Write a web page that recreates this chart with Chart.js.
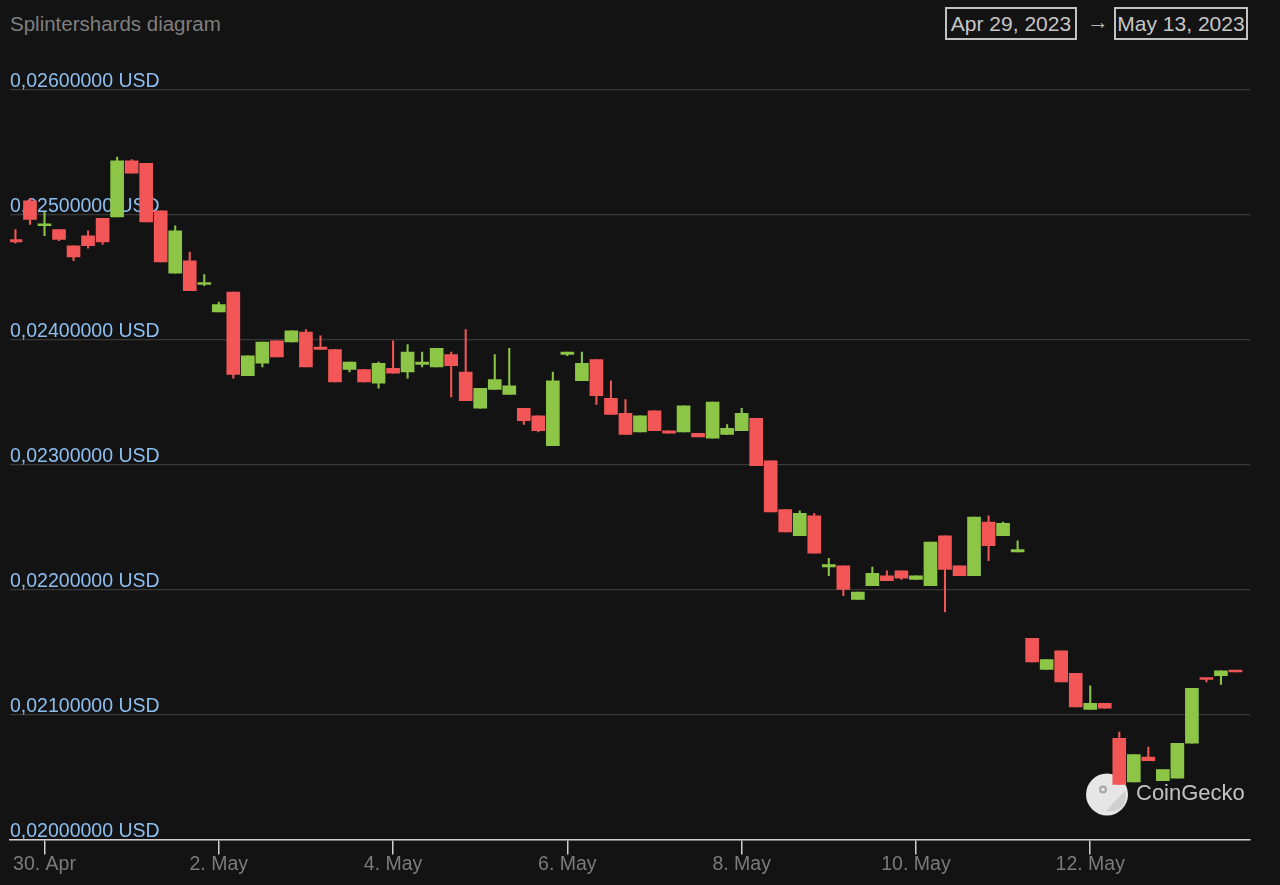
<!DOCTYPE html>
<html>
<head>
<meta charset="utf-8">
<script src="https://cdn.jsdelivr.net/npm/chart.js@4.4.0/dist/chart.umd.min.js"></script>
<style>
  html, body { margin: 0; padding: 0; background: #131313; }
  body { width: 1280px; height: 885px; position: relative; overflow: hidden; font-family: 'Liberation Sans', Arial, sans-serif; }
  #title { position: absolute; left: 10px; top: 12px; font-size: 20.5px; color: #7f7f7f; }
  .date { position: absolute; top: 7px; height: 33px; box-sizing: border-box; border: 2px solid #c2c2c2;
          color: #c6c6c6; font-size: 21px; line-height: 29px; text-align: center; }
  #from { left: 945px; width: 132px; }
  #to { left: 1114px; width: 134px; }
  #arrow { position: absolute; left: 1087px; top: 9px; font-size: 22px; color: #b5b5b5; }
  #wrap { position: absolute; left: 0; top: 0; width: 1280px; height: 885px; }
</style>
</head>
<body>
<div id="title">Splintershards diagram</div>
<div class="date" id="from">Apr 29, 2023</div>
<div id="arrow">→</div>
<div class="date" id="to">May 13, 2023</div>
<div id="wrap"><canvas id="myChart" width="1280" height="885"></canvas></div>

<script>
// 4-hour candles, first one at Apr 29 16:00 (hours counted from Apr 30 00:00)
const firstHour = -8
const stepHours = 4

const open = [
  0.02480, 0.02511, 0.02491, 0.02488, 0.02475, 0.02483, 0.02497, 0.02498, 0.02543, 0.02541,
  0.02503, 0.02453, 0.02463, 0.02444, 0.02422, 0.02438, 0.02371, 0.02381, 0.02399, 0.02398,
  0.02406, 0.02394, 0.02392, 0.02376, 0.02376, 0.02365, 0.02377, 0.02374, 0.02380, 0.02378,
  0.02388, 0.02374, 0.02345, 0.02360, 0.02356, 0.02345, 0.02339, 0.02315, 0.02388, 0.02367,
  0.02384, 0.02353, 0.02341, 0.02326, 0.02343, 0.02327, 0.02326, 0.02325, 0.02321, 0.02324,
  0.02327, 0.02337, 0.02303, 0.02264, 0.02243, 0.02259, 0.02218, 0.02219, 0.02192, 0.02203,
  0.02211, 0.02215, 0.02208, 0.02203, 0.02243, 0.02219, 0.02211, 0.02254, 0.02243, 0.02230,
  0.02161, 0.02136, 0.02151, 0.02133, 0.02104, 0.02109, 0.02081, 0.02046, 0.02066, 0.02047,
  0.02049, 0.02077, 0.02129, 0.02131, 0.02135
]
const high = [
  0.02488, 0.02513, 0.02502, 0.02488, 0.02475, 0.02487, 0.02497, 0.02546, 0.02544, 0.02541,
  0.02503, 0.02491, 0.02470, 0.02452, 0.02430, 0.02438, 0.02387, 0.02398, 0.02399, 0.02407,
  0.02408, 0.02403, 0.02392, 0.02382, 0.02376, 0.02382, 0.02399, 0.02396, 0.02390, 0.02393,
  0.02390, 0.02408, 0.02361, 0.02388, 0.02393, 0.02345, 0.02339, 0.02374, 0.02390, 0.02390,
  0.02384, 0.02367, 0.02352, 0.02339, 0.02343, 0.02327, 0.02347, 0.02325, 0.02350, 0.02332,
  0.02345, 0.02337, 0.02303, 0.02264, 0.02263, 0.02261, 0.02225, 0.02219, 0.02198, 0.02218,
  0.02215, 0.02215, 0.02211, 0.02238, 0.02243, 0.02219, 0.02258, 0.02259, 0.02254, 0.02239,
  0.02161, 0.02144, 0.02151, 0.02133, 0.02123, 0.02109, 0.02086, 0.02068, 0.02074, 0.02056,
  0.02077, 0.02121, 0.02129, 0.02135, 0.02135
]
const low = [
  0.02477, 0.02492, 0.02483, 0.02479, 0.02463, 0.02473, 0.02476, 0.02498, 0.02533, 0.02494,
  0.02462, 0.02453, 0.02439, 0.02443, 0.02422, 0.02369, 0.02371, 0.02378, 0.02386, 0.02398,
  0.02378, 0.02392, 0.02366, 0.02374, 0.02366, 0.02361, 0.02373, 0.02369, 0.02378, 0.02378,
  0.02354, 0.02351, 0.02345, 0.02360, 0.02356, 0.02332, 0.02326, 0.02315, 0.02387, 0.02367,
  0.02348, 0.02340, 0.02324, 0.02326, 0.02327, 0.02325, 0.02326, 0.02322, 0.02321, 0.02324,
  0.02327, 0.02299, 0.02262, 0.02246, 0.02243, 0.02229, 0.02211, 0.02195, 0.02192, 0.02203,
  0.02207, 0.02208, 0.02208, 0.02203, 0.02182, 0.02211, 0.02211, 0.02223, 0.02243, 0.02230,
  0.02142, 0.02136, 0.02126, 0.02106, 0.02104, 0.02105, 0.02044, 0.02046, 0.02063, 0.02047,
  0.02049, 0.02077, 0.02126, 0.02124, 0.02134
]
const close = [
  0.02478, 0.02496, 0.02492, 0.02480, 0.02466, 0.02475, 0.02478, 0.02543, 0.02533, 0.02494,
  0.02462, 0.02487, 0.02439, 0.02445, 0.02428, 0.02372, 0.02387, 0.02398, 0.02386, 0.02407,
  0.02378, 0.02392, 0.02366, 0.02382, 0.02366, 0.02381, 0.02373, 0.02390, 0.02382, 0.02393,
  0.02379, 0.02351, 0.02361, 0.02368, 0.02363, 0.02335, 0.02327, 0.02367, 0.02390, 0.02381,
  0.02355, 0.02340, 0.02324, 0.02339, 0.02327, 0.02325, 0.02347, 0.02322, 0.02350, 0.02329,
  0.02341, 0.02299, 0.02262, 0.02246, 0.02261, 0.02229, 0.02220, 0.02200, 0.02198, 0.02213,
  0.02207, 0.02209, 0.02211, 0.02238, 0.02216, 0.02211, 0.02258, 0.02235, 0.02253, 0.02232,
  0.02142, 0.02144, 0.02126, 0.02106, 0.02109, 0.02105, 0.02044, 0.02068, 0.02063, 0.02056,
  0.02077, 0.02121, 0.02128, 0.02135, 0.02134
]

const tickHours = [0, 48, 96, 144, 192, 240, 288]
const tickLabels = ['30. Apr', '2. May', '4. May', '6. May', '8. May', '10. May', '12. May']

const up = '#8dc647'
const down = '#f25656'

const bodies = []
const wicks = []
const colors = []
open.forEach((o, i) => {
  const x = firstHour + i * stepHours
  bodies.push({ x: x, y: [o, close[i]] })
  wicks.push({ x: x, y: [low[i], high[i]] })
  colors.push(close[i] >= o ? up : down)
})

const watermark = {
  id: 'watermark',
  beforeDatasetsDraw(chart) {
    const { ctx, chartArea } = chart
    const cx = chartArea.right - 143
    const cy = chartArea.bottom - 45
    ctx.save()
    ctx.fillStyle = '#e6e6e6'
    ctx.beginPath()
    ctx.arc(cx, cy, 21, 0, Math.PI * 2)
    ctx.fill()
    ctx.fillStyle = '#cfcfcf'
    ctx.beginPath()
    ctx.arc(cx + 4, cy + 2, 15, -0.4, 1.9)
    ctx.fill()
    ctx.fillStyle = '#a8a8a8'
    ctx.beginPath()
    ctx.arc(cx - 4, cy - 5, 4, 0, Math.PI * 2)
    ctx.fill()
    ctx.fillStyle = '#e6e6e6'
    ctx.beginPath()
    ctx.arc(cx - 4, cy - 5, 1.8, 0, Math.PI * 2)
    ctx.fill()
    ctx.fillStyle = 'rgba(215,215,215,0.9)'
    ctx.font = '22px "Liberation Sans", Arial, sans-serif'
    ctx.textBaseline = 'middle'
    ctx.fillText('CoinGecko', cx + 29, cy - 1)
    ctx.restore()
  }
}

const ctx = document.getElementById('myChart')
const myChart = new Chart(ctx, {
  type: 'bar',
  data: {
    datasets: [{
      label: 'Body',
      data: bodies,
      backgroundColor: colors,
      barThickness: 13,
      minBarLength: 2,
      grouped: false,
      order: 0
    }, {
      label: 'Wick',
      data: wicks,
      backgroundColor: colors,
      barThickness: 1.4,
      minBarLength: 1,
      grouped: false,
      order: 1
    }]
  },
  options: {
    responsive: false,
    animation: false,
    layout: { padding: { left: 10, right: 30, top: 89.5, bottom: 11 } },
    plugins: { legend: { display: false }, tooltip: { enabled: false } },
    scales: {
      x: {
        type: 'linear',
        min: -9.5,
        max: 332,
        offset: false,
        afterBuildTicks: axis => { axis.ticks = tickHours.map(h => ({ value: h })) },
        grid: { offset: false, drawOnChartArea: false, drawTicks: true, tickLength: 15, color: '#cfcfd4', lineWidth: 1.5 },
        border: { display: true, color: '#cfcfd4', width: 1.5 },
        ticks: {
          autoSkip: false,
          maxRotation: 0,
          padding: 0,
          color: '#7b7b7b',
          font: { family: '"Liberation Sans", Arial, sans-serif', size: 19.5, lineHeight: 1 },
          callback: (value, index) => tickLabels[index]
        }
      },
      y: {
        type: 'linear',
        min: 0.020,
        max: 0.026,
        grid: { color: '#383838', lineWidth: 1.2, drawTicks: false },
        border: { display: false },
        ticks: {
          stepSize: 0.001,
          mirror: true,
          padding: 0,
          labelOffset: -8,
          color: '#8cbff0',
          font: { family: '"Liberation Sans", Arial, sans-serif', size: 19.5 },
          callback: value => value.toFixed(8).replace('.', ',') + ' USD'
        }
      }
    }
  },
  plugins: [watermark]
})
</script>
</body>
</html>
